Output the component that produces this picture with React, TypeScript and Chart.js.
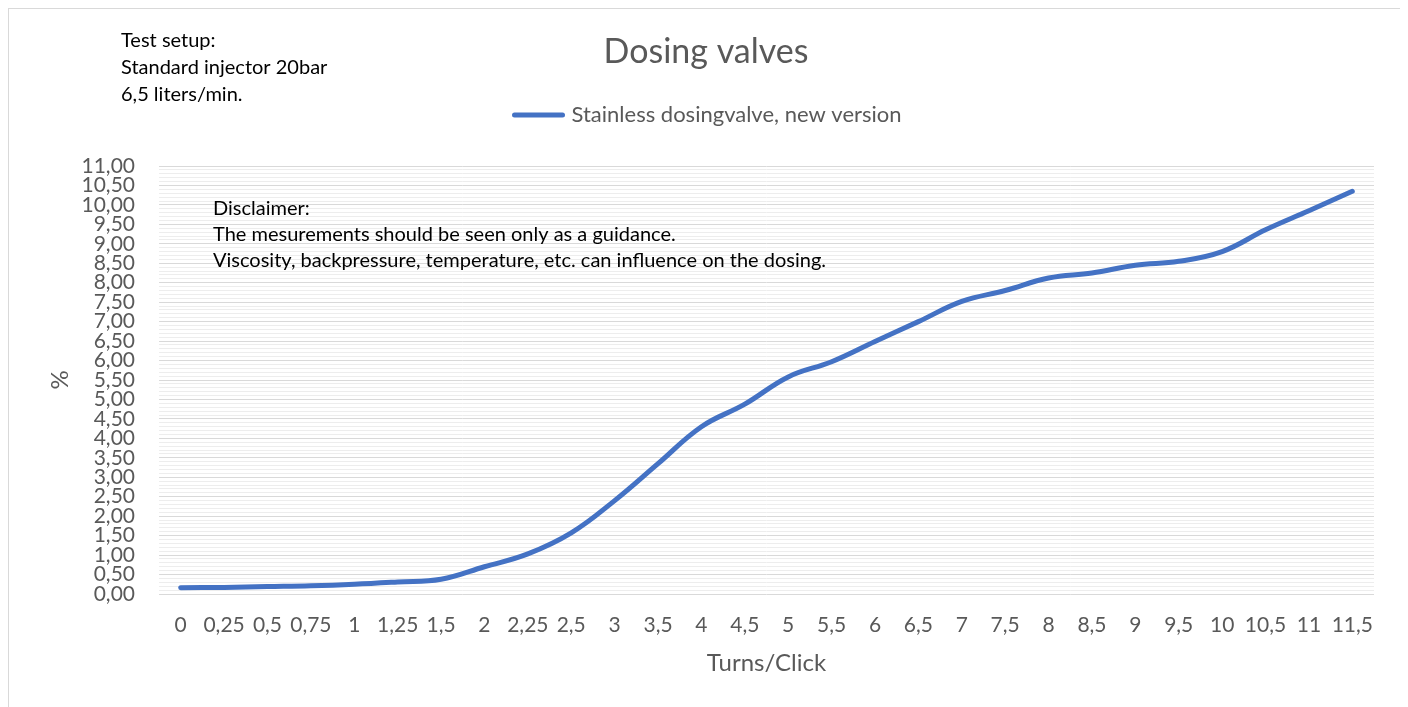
import React, { useEffect, useRef } from "react";
import { Chart, registerables } from "chart.js";

Chart.register(...registerables);

// ---- data ----
const categories = [
  "0", "0,25", "0,5", "0,75", "1", "1,25", "1,5", "2", "2,25", "2,5", "3", "3,5", "4", "4,5",
  "5", "5,5", "6", "6,5", "7", "7,5", "8", "8,5", "9", "9,5", "10", "10,5", "11", "11,5",
];
const seriesValues = [
  0.16, 0.17, 0.19, 0.21, 0.25, 0.31, 0.38, 0.7, 1.03, 1.57, 2.4, 3.35, 4.3, 4.88,
  5.58, 5.97, 6.49, 7.0, 7.52, 7.8, 8.12, 8.25, 8.45, 8.55, 8.8, 9.36, 9.85, 10.35,
];
const seriesName = "Stainless dosingvalve, new version";
const chartTitle = "Dosing valves";
const xAxisTitle = "Turns/Click";
const yAxisTitle = "%";
const setupLines = ["Test setup:", "Standard injector 20bar", "6,5 liters/min."];
const disclaimerLines = [
  "Disclaimer:",
  "The mesurements should be seen only as a guidance.",
  "Viscosity, backpressure, temperature, etc. can influence on the dosing.",
];
const yMin = 0;
const yMax = 11;
const yMajorStep = 0.5;
const yMinorStep = 0.1;

const FONT = "Lato, 'Open Sans', sans-serif";
const GREY_TEXT = "#595959";
const LINE_COLOR = "#4472C4";

const isMajor = (v: number) => {
  const r = v / yMajorStep;
  return Math.abs(r - Math.round(r)) < 1e-6;
};

const textPlugin = {
  id: "extraTexts",
  afterDraw(chart: any) {
    const ctx = chart.ctx as CanvasRenderingContext2D;
    const ca = chart.chartArea;
    const W = chart.width;
    ctx.save();

    // title
    ctx.fillStyle = GREY_TEXT;
    ctx.textAlign = "center";
    ctx.textBaseline = "middle";
    ctx.font = `34px ${FONT}`;
    ctx.fillText(chartTitle, W / 2 + 1, 43);

    // legend
    ctx.font = `22px ${FONT}`;
    const tw = ctx.measureText(seriesName).width;
    const sw = 52;
    const gap = 7;
    const total = sw + gap + tw;
    const lx = W / 2 - total / 2 + 2;
    const ly = 106;
    ctx.strokeStyle = LINE_COLOR;
    ctx.lineWidth = 5;
    ctx.lineCap = "round";
    ctx.beginPath();
    ctx.moveTo(lx + 2, ly);
    ctx.lineTo(lx + sw - 2, ly);
    ctx.stroke();
    ctx.textAlign = "left";
    ctx.fillStyle = GREY_TEXT;
    ctx.fillText(seriesName, lx + sw + gap, ly);

    // axis titles
    ctx.font = `24px ${FONT}`;
    ctx.textAlign = "center";
    ctx.fillText(xAxisTitle, (ca.left + ca.right) / 2, 654);
    ctx.save();
    ctx.translate(51, (ca.top + ca.bottom) / 2);
    ctx.rotate(-Math.PI / 2);
    ctx.fillText(yAxisTitle, 0, 0);
    ctx.restore();

    // text boxes
    ctx.fillStyle = "#000000";
    ctx.textAlign = "left";
    ctx.font = `20px ${FONT}`;
    setupLines.forEach((t, i) => ctx.fillText(t, 112, 32 + i * 27));
    disclaimerLines.forEach((t, i) => ctx.fillText(t, 204, 200 + i * 26));

    ctx.restore();
  },
};

export default function App() {
  const canvasRef = useRef<HTMLCanvasElement | null>(null);

  useEffect(() => {
    if (!canvasRef.current) return;
    const chart = new Chart(canvasRef.current, {
      type: "line",
      data: {
        labels: categories,
        datasets: [
          {
            label: seriesName,
            data: seriesValues,
            borderColor: LINE_COLOR,
            backgroundColor: LINE_COLOR,
            borderWidth: 5,
            borderCapStyle: "round",
            borderJoinStyle: "round",
            pointRadius: 0,
            tension: 0.4,
            fill: false,
          },
        ],
      },
      options: {
        animation: false,
        responsive: false,
        maintainAspectRatio: false,
        layout: { padding: { top: 157, left: 50, right: 27, bottom: 53 } },
        plugins: {
          legend: { display: false },
          title: { display: false },
          tooltip: { enabled: false },
        },
        scales: {
          x: {
            type: "category",
            offset: true,
            grid: { display: false, drawTicks: false },
            border: { display: false },
            ticks: {
              autoSkip: false,
              maxRotation: 0,
              minRotation: 0,
              padding: 19,
              color: GREY_TEXT,
              font: { family: FONT, size: 21 },
            },
            afterFit: (s: any) => {
              s.height = 60;
            },
          },
          y: {
            type: "linear",
            min: yMin,
            max: yMax,
            grid: {
              drawTicks: false,
              color: (c: any) => (isMajor(c.tick.value) ? "#d9d9d9" : "#ededed"),
              lineWidth: 1,
            },
            border: { display: false },
            ticks: {
              stepSize: yMinorStep,
              autoSkip: false,
              padding: 24,
              color: GREY_TEXT,
              font: { family: FONT, size: 21, lineHeight: 1 },
              callback: (v: any) => {
                const n = Number(v);
                return isMajor(n) ? n.toFixed(2).replace(".", ",") : "";
              },
            },
            afterFit: (s: any) => {
              s.width = 100;
            },
          },
        },
      },
      plugins: [textPlugin],
    });
    return () => chart.destroy();
  }, []);

  return (
    <div
      style={{
        position: "relative",
        width: 1394,
        height: 699,
        boxSizing: "border-box",
        border: "1px solid #d9d9d9",
        borderBottom: "none",
        background: "#ffffff",
      }}
    >
      <canvas ref={canvasRef} width={1392} height={698} style={{ display: "block" }} />
    </div>
  );
}
